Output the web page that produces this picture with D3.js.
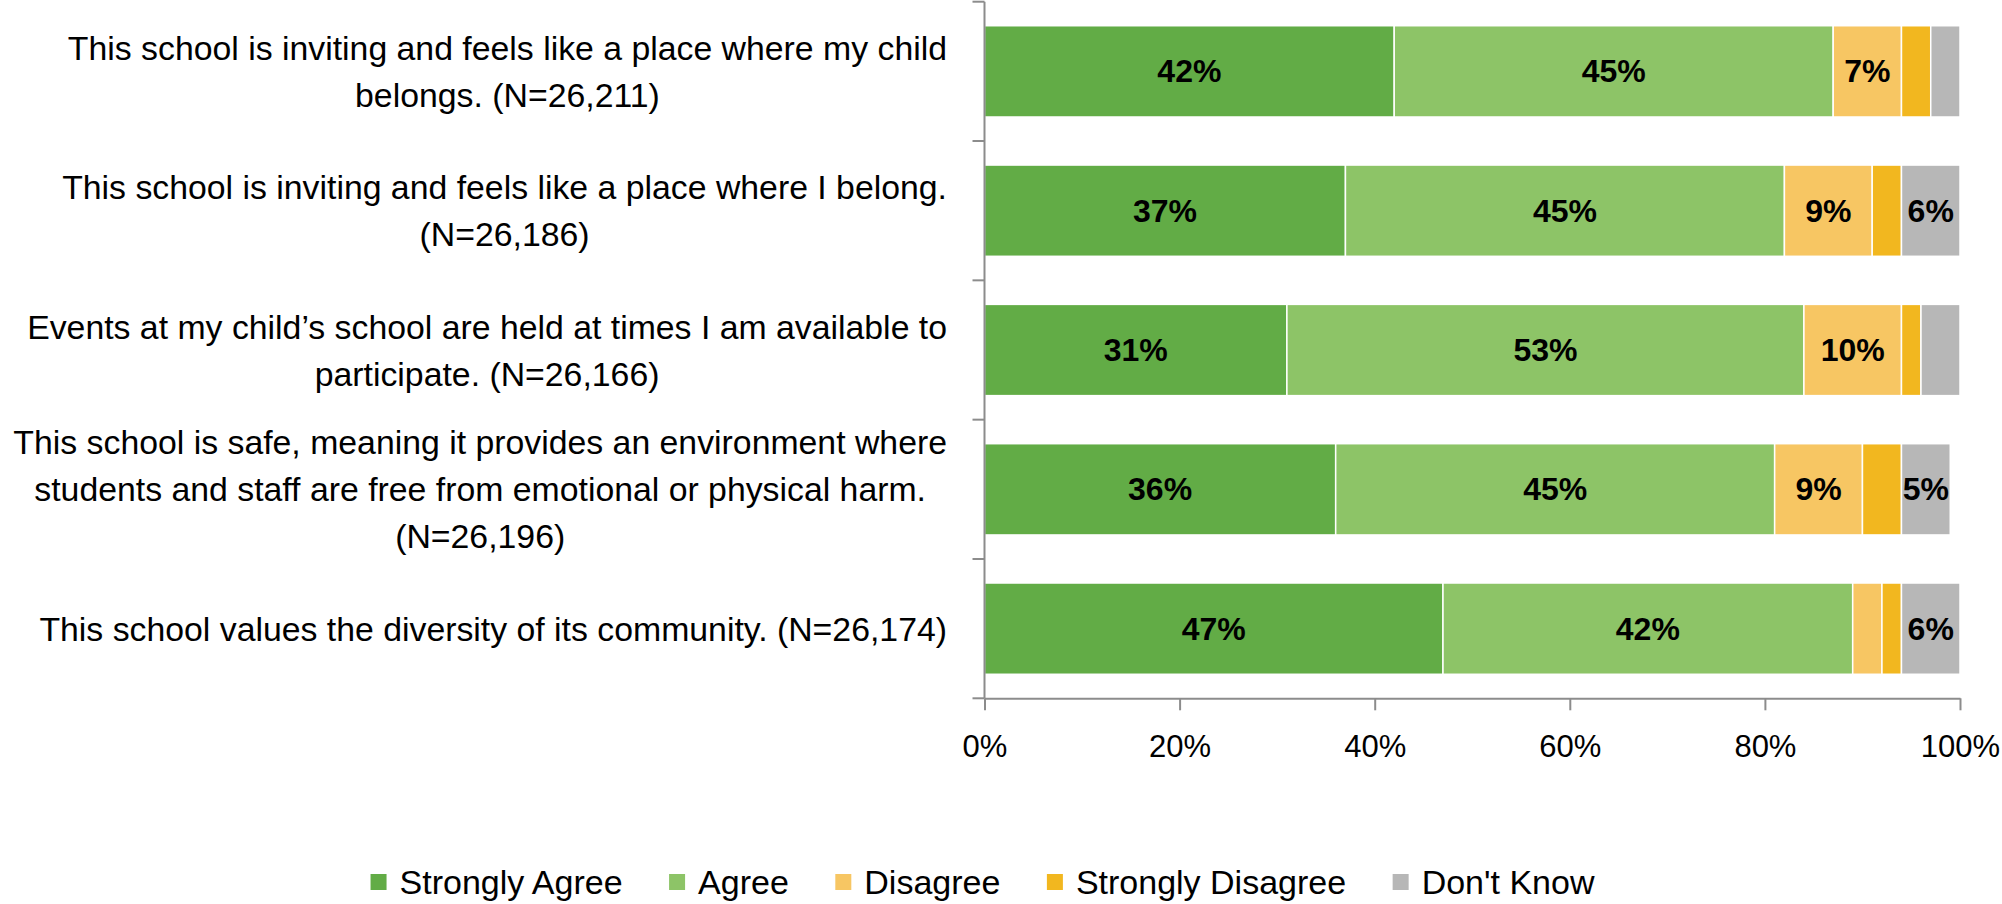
<!DOCTYPE html>
<html>
<head>
<meta charset="utf-8">
<script src="https://cdn.jsdelivr.net/npm/d3@7/dist/d3.min.js"></script>
<style>
  html, body { margin: 0; padding: 0; background: #ffffff; }
  svg { display: block; }
  text { font-family: "Liberation Sans", Arial, sans-serif; fill: #000; }
</style>
</head>
<body>
<svg id="chart" width="2002" height="904"></svg>
<script>
// ---- data ----
const categories = [
  "This school is inviting and feels like a place where my child belongs. (N=26,211)",
  "This school is inviting and feels like a place where I belong. (N=26,186)",
  "Events at my child’s school are held at times I am available to participate. (N=26,166)",
  "This school is safe, meaning it provides an environment where students and staff are free from emotional or physical harm. (N=26,196)",
  "This school values the diversity of its community. (N=26,174)"
];
const categoryLines = [
  ["This school is inviting and feels like a place where my child", "belongs. (N=26,211)"],
  ["This school is inviting and feels like a place where I belong.", "(N=26,186)"],
  ["Events at my child’s school are held at times I am available to", "participate. (N=26,166)"],
  ["This school is safe, meaning it provides an environment where", "students and staff are free from emotional or physical harm.", "(N=26,196)"],
  ["This school values the diversity of its community. (N=26,174)"]
];
const seriesNames = ["Strongly Agree", "Agree", "Disagree", "Strongly Disagree", "Don't Know"];
const stronglyAgree    = [42, 37, 31, 36, 47];
const agree            = [45, 45, 53, 45, 42];
const disagree         = [7, 9, 10, 9, 3];
const stronglyDisagree = [3, 3, 2, 4, 2];
const dontKnow         = [3, 6, 4, 5, 6];
const xTicks = [0, 20, 40, 60, 80, 100];
const colors = ["#62ac46", "#8dc467", "#f7c663", "#f2b71f", "#b7b7b7"];

const seriesValues = [stronglyAgree, agree, disagree, stronglyDisagree, dontKnow];

// ---- layout ----
const svg = d3.select("#chart");
const x = d3.scaleLinear().domain([0, 100]).range([984.5, 1960]);
const y = d3.scaleBand().domain(categories).range([1.7, 698.3])
  .paddingInner(0.345).paddingOuter(0.1725);
const step = y.step();
const axisColor = "#8c8c8c";

// stacked data
const rows = categories.map((c, i) => {
  const r = { cat: c };
  seriesNames.forEach((s, j) => r[s] = seriesValues[j][i]);
  return r;
});
const stack = d3.stack().keys(seriesNames)(rows);

// bars
const gBars = svg.append("g");
stack.forEach((layer, j) => {
  const g = gBars.append("g").attr("fill", colors[j]);
  g.selectAll("rect").data(layer).join("rect")
    .attr("x", d => x(d[0]))
    .attr("y", d => y(d.data.cat))
    .attr("width", d => x(d[1]) - x(d[0]))
    .attr("height", y.bandwidth())
    .attr("stroke", "#ffffff")
    .attr("stroke-width", 1.5);
  g.selectAll("text").data(layer.filter(d => d[1] - d[0] >= 5)).join("text")
    .attr("x", d => (x(d[0]) + x(d[1])) / 2)
    .attr("y", d => y(d.data.cat) + y.bandwidth() / 2)
    .attr("text-anchor", "middle")
    .attr("dominant-baseline", "central")
    .attr("font-weight", "bold")
    .attr("font-size", 32)
    .text(d => (d[1] - d[0]) + "%");
});

// y axis line + ticks at band boundaries
const gy = svg.append("g");
const y0 = y.range()[0];
gy.append("line")
  .attr("x1", x(0)).attr("x2", x(0))
  .attr("y1", y0).attr("y2", y.range()[1])
  .attr("stroke", axisColor).attr("stroke-width", 2);
d3.range(categories.length + 1).forEach(i => {
  gy.append("line")
    .attr("x1", x(0) - 12).attr("x2", x(0))
    .attr("y1", y0 + i * step).attr("y2", y0 + i * step)
    .attr("stroke", axisColor).attr("stroke-width", 2);
});

// x axis
const gx = svg.append("g").attr("transform", `translate(0,${y.range()[1]})`)
  .call(d3.axisBottom(x).tickValues(xTicks).tickFormat(d => d + "%").tickSize(12).tickSizeOuter(0).tickPadding(25));
gx.attr("font-family", null).attr("font-size", null);
gx.select(".domain").attr("stroke", axisColor).attr("stroke-width", 2);
gx.selectAll(".tick line").attr("stroke", axisColor).attr("stroke-width", 2);
gx.selectAll(".tick text")
  .attr("font-size", 31)
  .attr("fill", "#000");

// category labels
const labelRight = 947;
const lineH = 47;
const gl = svg.append("g");
categories.forEach((c, i) => {
  const lines = categoryLines[i];
  const cy = y(c) + y.bandwidth() / 2;
  const g = gl.append("g");
  const texts = lines.map((ln, k) => g.append("text")
    .attr("y", cy + (k - (lines.length - 1) / 2) * lineH)
    .attr("dominant-baseline", "central")
    .attr("text-anchor", "middle")
    .attr("font-size", 33.8)
    .text(ln));
  const maxW = d3.max(texts, t => t.node().getComputedTextLength());
  texts.forEach(t => t.attr("x", labelRight - maxW / 2));
});

// legend
const legY = 882;
const sq = 16;
const gLeg = svg.append("g");
const items = seriesNames.map((s, j) => {
  const g = gLeg.append("g");
  g.append("rect").attr("width", sq).attr("height", sq).attr("y", legY - sq / 2).attr("fill", colors[j]);
  const t = g.append("text").attr("x", sq + 13).attr("y", legY)
    .attr("dominant-baseline", "central").attr("font-size", 34).text(s);
  return { g, w: sq + 13 + t.node().getComputedTextLength() };
});
const gap = 46.5;
const total = d3.sum(items, d => d.w) + gap * (items.length - 1);
let cx = 982.5 - total / 2;
items.forEach(it => { it.g.attr("transform", `translate(${cx},0)`); cx += it.w + gap; });
</script>
</body>
</html>
